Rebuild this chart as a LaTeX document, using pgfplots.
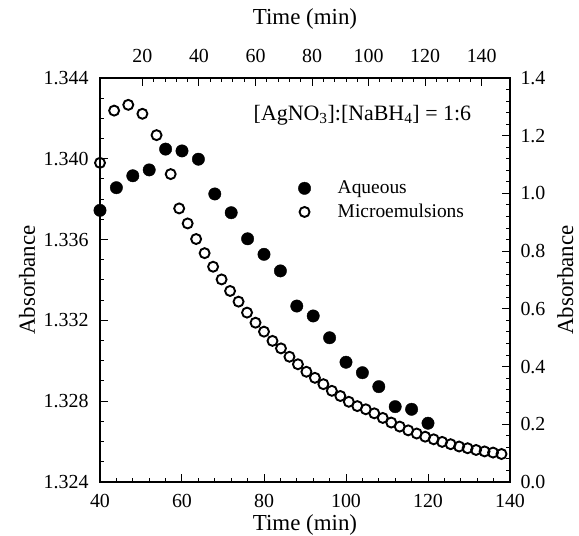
\documentclass[border=0pt]{standalone}
\usepackage{fontspec}
\setmainfont{Liberation Serif}
\usepackage{pgfplots}
\pgfplotsset{compat=1.18}

\pgfplotsset{
  common/.style={
    scale only axis, width=410bp, height=404bp,
    clip=false,
    axis line style={line width=1.6bp},
    tick align=inside,
    major tick length=8bp, minor tick length=4bp,
    every tick/.style={black, line width=1bp},
    tick label style={font=\fontsize{20}{24}\selectfont},
    label style={font=\fontsize{23}{27}\selectfont},
    /pgf/number format/assume math mode=true,
  },
}

\begin{document}
\begin{tikzpicture}
% aqueous: bottom / left axes
\begin{axis}[common,
  xmin=40, xmax=140, ymin=1.324, ymax=1.344,
  xtick={40,60,80,100,120,140}, minor x tick num=4,
  ytick={1.324,1.328,1.332,1.336,1.340,1.344}, minor y tick num=3,
  xtick pos=bottom, ytick pos=left,
  scaled y ticks=false,
  xticklabel style={yshift=-9bp},
  yticklabel style={xshift=-8bp, /pgf/number format/.cd, fixed, fixed zerofill, precision=3},
  xlabel={Time (min)}, ylabel={Absorbance},
  xlabel style={at={(axis description cs:0.5,-0.107)}, anchor=center},
  ylabel style={at={(axis description cs:-0.178,0.5)}, anchor=center},
]
\addplot[only marks, mark=*, mark size=6.2bp, black] coordinates {
  (40,1.33745) (44,1.33857) (48,1.33916) (52,1.33945) (56,1.34048)
  (60,1.34039) (64,1.33998) (68,1.33826) (72,1.33733) (76,1.33604)
  (80,1.33527) (84,1.33445) (88,1.33271) (92,1.33222) (96,1.33114)
  (100,1.32993) (104,1.32941) (108,1.32872) (112,1.32773) (116,1.32760)
  (120,1.32691)
};
\end{axis}
% microemulsions: top / right axes
\begin{axis}[common,
  xmin=5, xmax=150, ymin=0, ymax=1.4,
  xtick={20,40,60,80,100,120,140}, minor x tick num=4,
  ytick={0,0.2,0.4,0.6,0.8,1.0,1.2,1.4}, minor y tick num=4,
  xtick pos=top, ytick pos=right,
  xticklabel pos=right, yticklabel pos=right,
  xticklabel style={yshift=12bp},
  yticklabel style={xshift=7bp, /pgf/number format/.cd, fixed, fixed zerofill, precision=1},
  xlabel={Time (min)}, ylabel={Absorbance},
  xlabel style={at={(axis description cs:0.5,1.145)}, anchor=center},
  ylabel style={at={(axis description cs:1.135,0.5)}, anchor=center},
  legend style={draw=none, fill=none, at={(axis description cs:0.476,0.755)},
    anchor=north west, font=\fontsize{19.5}{23}\selectfont, row sep=5bp,
    /tikz/every odd column/.append style={column sep=25bp}},
  legend cell align=left,
]
\addlegendimage{only marks, mark=*, mark size=6.2bp, black}
\addlegendentry{Aqueous}
\addplot[only marks, mark=o, mark size=5bp, line width=1.9bp, black] coordinates {
  (5,1.106) (10,1.287) (15,1.307) (20,1.276) (25,1.202) (30,1.067)
  (33,0.948) (36,0.896) (39,0.842) (42,0.793) (45,0.746) (48,0.702)
  (51,0.662) (54,0.625) (57,0.587) (60,0.552) (63,0.521) (66,0.489)
  (69,0.463) (72,0.434) (75,0.408) (78,0.382) (81,0.361) (84,0.339)
  (87,0.316) (90,0.298) (93,0.278) (96,0.263) (99,0.252) (102,0.238)
  (105,0.222) (108,0.206) (111,0.192) (114,0.179) (117,0.168) (120,0.157)
  (123,0.148) (126,0.139) (129,0.131) (132,0.123) (135,0.117) (138,0.111)
  (141,0.106) (144,0.102) (147,0.097)
};
\addlegendentry{Microemulsions}
\node[font=\fontsize{22}{26}\selectfont] at (axis description cs:0.64,0.908)
  {[AgNO\textsubscript{3}]:[NaBH\textsubscript{4}] = 1:6};
\end{axis}
\pgfresetboundingbox
\path (-100bp,-54bp) rectangle (479bp,482bp);
\end{tikzpicture}
\end{document}
